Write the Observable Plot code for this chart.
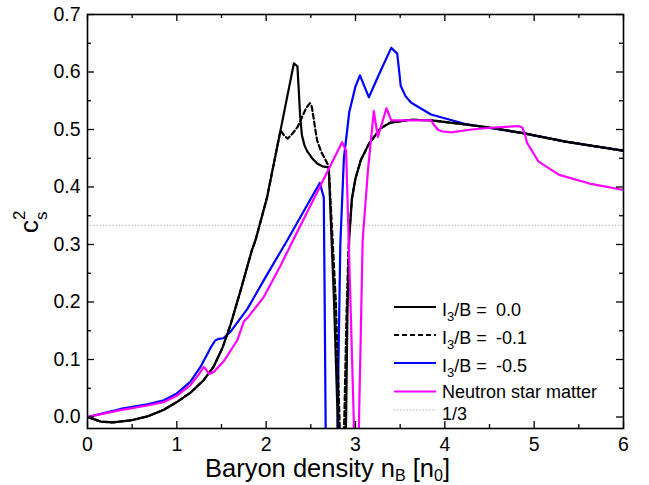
<!DOCTYPE html>
<html><head><meta charset="utf-8">
<script src="https://cdn.jsdelivr.net/npm/d3@7"></script>
<script src="https://cdn.jsdelivr.net/npm/@observablehq/plot@0.6"></script>
<style>body{margin:0;background:#fff}</style>
</head><body><div id="chart"></div>
<script>
// ---- data (x = baryon density n_B/n_0, y = c_s^2) ----
const iso00 = [[0,0],[0.15,-0.008],[0.28,-0.0095],[0.48,-0.006],[0.67,0.001],[0.855,0.0125],[1.0,0.026],[1.15,0.042],[1.30,0.064],[1.41,0.087],[1.51,0.12],[1.60,0.16],[1.71,0.218],[1.84,0.29],[1.88,0.307],[2.01,0.382],[2.16,0.498],[2.31,0.615],[2.35,0.61],[2.38,0.525],[2.40,0.49],[2.43,0.472],[2.46,0.462],[2.52,0.449],[2.57,0.441],[2.63,0.436],[2.70,0.434],[2.76,0.20],[2.80,0.0],[2.82,-0.1],[2.88,-0.1],[2.895,0.0],[2.91,0.18],[2.93,0.31],[2.96,0.38],[3.0,0.415],[3.06,0.447],[3.15,0.475],[3.28,0.502],[3.39,0.512],[3.62,0.517],[3.85,0.516],[4.22,0.509],[4.52,0.503],[4.86,0.494],[5.35,0.479],[6.0,0.463]];
const iso01 = [[0,0],[0.15,-0.008],[0.28,-0.0095],[0.48,-0.006],[0.67,0.001],[0.855,0.0125],[1.0,0.026],[1.15,0.042],[1.30,0.064],[1.41,0.087],[1.51,0.12],[1.60,0.16],[1.71,0.218],[1.84,0.29],[1.88,0.307],[2.01,0.382],[2.10,0.452],[2.16,0.498],[2.20,0.49],[2.24,0.484],[2.29,0.492],[2.35,0.504],[2.40,0.521],[2.45,0.538],[2.49,0.546],[2.51,0.54],[2.53,0.521],[2.55,0.50],[2.57,0.481],[2.62,0.46],[2.665,0.447],[2.70,0.436],[2.78,0.20],[2.82,0.0],[2.84,-0.1],[2.86,-0.1],[2.875,0.0],[2.90,0.18],[2.925,0.31],[2.96,0.38],[3.0,0.415],[3.06,0.447],[3.15,0.475],[3.28,0.502],[3.39,0.512],[3.62,0.517],[3.85,0.516],[4.22,0.509],[4.52,0.503],[4.86,0.494],[5.35,0.479],[6.0,0.463]];
const iso05 = [[0,0],[0.15,0.0055],[0.37,0.014],[0.67,0.022],[0.855,0.029],[1.0,0.041],[1.15,0.061],[1.265,0.087],[1.38,0.121],[1.43,0.133],[1.47,0.136],[1.52,0.137],[1.60,0.148],[1.79,0.188],[2.0,0.245],[2.235,0.307],[2.45,0.366],[2.60,0.407],[2.645,0.382],[2.655,0.2],[2.665,0.0],[2.67,-0.1],[2.79,-0.1],[2.80,0.0],[2.83,0.30],[2.87,0.45],[2.93,0.53],[3.0,0.575],[3.05,0.594],[3.15,0.556],[3.275,0.6],[3.40,0.642],[3.467,0.632],[3.49,0.6],[3.506,0.576],[3.56,0.558],[3.62,0.547],[3.845,0.526],[4.22,0.51],[4.485,0.503],[4.86,0.494],[5.35,0.479],[6.0,0.463]];
const nsm = [[0,0],[0.15,0.005],[0.37,0.012],[0.67,0.02],[0.855,0.026],[1.0,0.037],[1.15,0.055],[1.25,0.075],[1.30,0.087],[1.33,0.082],[1.36,0.075],[1.41,0.078],[1.53,0.098],[1.675,0.133],[1.75,0.166],[1.80,0.174],[1.97,0.208],[2.16,0.263],[2.30,0.307],[2.60,0.40],[2.85,0.478],[2.895,0.463],[2.94,0.22],[2.98,0.0],[2.99,-0.1],[3.03,-0.1],[3.04,0.0],[3.06,0.15],[3.08,0.307],[3.14,0.43],[3.205,0.532],[3.25,0.487],[3.347,0.537],[3.40,0.516],[3.58,0.516],[3.845,0.516],[3.87,0.51],[3.92,0.50],[3.96,0.497],[4.07,0.495],[4.30,0.5],[4.52,0.503],[4.825,0.506],[4.87,0.503],[4.90,0.49],[4.92,0.477],[5.05,0.444],[5.28,0.421],[5.62,0.406],[6.0,0.395]];
const refLine = [1/3];
const xMajor = [0,1,2,3,4,5,6];
const xMinor = [0.5,1.5,2.5,3.5,4.5,5.5];
const yMajor = [0,0.1,0.2,0.3,0.4,0.5,0.6,0.7];
const yMinor = [0.05,0.15,0.25,0.35,0.45,0.55,0.65];
const legendValues = ["0.0","-0.1","-0.5"];
const legendNames = ["Neutron star matter","1/3"];

const FONT = "'Liberation Sans', Arial, Helvetica, sans-serif";
const W=649,H=485,ML=87,MR=26,MT=14,MB=57;
const PW=W-ML-MR, PH=H-MT-MB;
const acc = {x:d=>d[0], y:d=>d[1], clip:true, strokeWidth:2.2};
const tk = (vals, len, side) => {
  const o = {stroke:"black", strokeWidth:1.3};
  if (side==="b") return Plot.tickX(vals,{x:d=>d, insetTop:PH-len, ...o});
  if (side==="t") return Plot.tickX(vals,{x:d=>d, insetBottom:PH-len, ...o});
  if (side==="l") return Plot.tickY(vals,{y:d=>d, insetRight:PW-len, ...o});
  return Plot.tickY(vals,{y:d=>d, insetLeft:PW-len, ...o});
};
const plot = Plot.plot({
  width:W, height:H, marginLeft:ML, marginRight:MR, marginTop:MT, marginBottom:MB,
  style:{fontFamily:FONT, fontSize:"19px", background:"white", color:"black", overflow:"visible"},
  x:{domain:[0,6]}, y:{domain:[-0.02,0.7]},
  marks:[
    Plot.ruleY(refLine,{y:d=>d, stroke:"#a0a0a0", strokeWidth:1, strokeDasharray:"1.2,2"}),
    Plot.line(iso05,{...acc, stroke:"#0000ff"}),
    Plot.line(iso00,{...acc, stroke:"black"}),
    Plot.line(iso01,{...acc, stroke:"black", strokeDasharray:"5,3"}),
    Plot.line(nsm,{...acc, stroke:"#ff00ff"}),
    Plot.frame({stroke:"black", strokeWidth:1.6}),
    tk(xMajor,7,"b"), tk(xMinor,4,"b"), tk(xMajor,7,"t"), tk(xMinor,4,"t"),
    tk(yMajor,7,"l"), tk(yMinor,4,"l"), tk(yMajor,7,"r"), tk(yMinor,4,"r"),
    Plot.axisX({ticks:xMajor, tickSize:0, tickPadding:9, tickFormat:d3.format("d"), label:null, fontSize:19.5}),
    Plot.axisY({ticks:yMajor, tickSize:0, tickPadding:7, tickFormat:d3.format(".1f"), label:null, fontSize:19.5})
  ]
});
document.getElementById("chart").appendChild(plot);

const svg = d3.select(plot);
// axis titles
const xt = svg.append("text").attr("x",205).attr("y",477).attr("text-anchor","start").attr("font-family",FONT).attr("font-size",25.5).attr("fill","black");
xt.append("tspan").text("Baryon density n");
xt.append("tspan").attr("font-size",16).attr("dy",3.5).text("B");
xt.append("tspan").attr("dy",-3.5).text(" [n");
xt.append("tspan").attr("font-size",16).attr("dy",3.5).text("0");
xt.append("tspan").attr("dy",-3.5).text("]");

const yt = svg.append("text").attr("transform","translate(38,233) rotate(-90)").attr("text-anchor","start").attr("font-family",FONT).attr("font-size",26).attr("fill","black");
yt.append("tspan").attr("x",0).attr("y",0).text("c");
yt.append("tspan").attr("x",13).attr("y",9).attr("font-size",17).text("s");
yt.append("tspan").attr("x",13).attr("y",-13).attr("font-size",17).text("2");

// legend
const lg = svg.append("g").attr("font-family",FONT).attr("font-size",18).attr("fill","black").attr("text-anchor","start");
const rows = [
  {y:307, stroke:"black", dash:null, w:2.2},
  {y:335, stroke:"black", dash:"5,3", w:2.2},
  {y:363, stroke:"#0000ff", dash:null, w:2.2},
  {y:391.5, stroke:"#ff00ff", dash:null, w:2.2},
  {y:410, stroke:"#a0a0a0", dash:"1.2,2", w:1}
];
rows.forEach((r,i)=>{
  lg.append("line").attr("x1",394).attr("x2",436).attr("y1",r.y).attr("y2",r.y)
    .attr("stroke",r.stroke).attr("stroke-width",r.w).attr("stroke-dasharray",r.dash);
  if (i<3) {
    const t = lg.append("text").attr("x",442).attr("y",r.y+8.5);
    t.append("tspan").text("I");
    t.append("tspan").attr("font-size",13).attr("dy",5).text("3");
    t.append("tspan").attr("dy",-5).text("/B =");
    lg.append("text").attr("x",496).attr("y",r.y+8.5).text(legendValues[i]);
  } else {
    lg.append("text").attr("x",442).attr("y",r.y+(i===3?6.5:10)).text(legendNames[i-3]);
  }
});
</script></body></html>
